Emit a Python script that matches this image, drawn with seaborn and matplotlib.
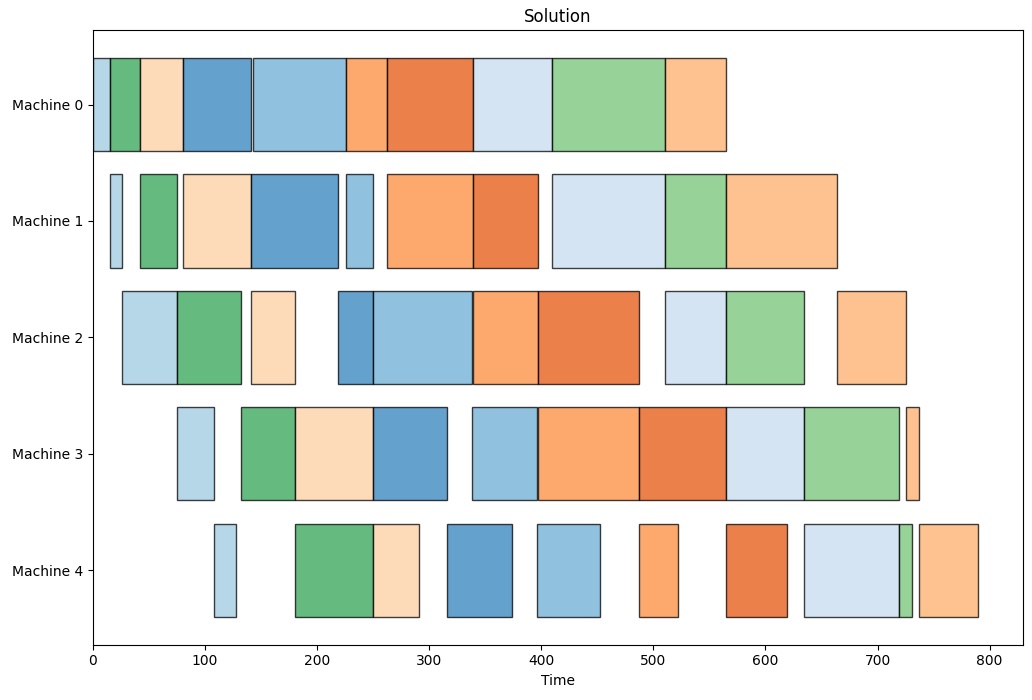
import numpy as np
import pandas as pd
import seaborn as sns
import matplotlib
matplotlib.use("Agg")
import matplotlib.pyplot as plt

machines = ["Machine 0", "Machine 1", "Machine 2", "Machine 3", "Machine 4"]

# job sequence (flow shop permutation) and per-job start / duration on machines 0..4
job_order = [2, 8, 7, 0, 1, 5, 4, 3, 9, 6]
job_starts = {
    2: [0, 15, 26, 75, 108],
    8: [15, 42, 75, 132, 180],
    7: [42, 80, 141, 180, 250],
    0: [80, 141, 219, 250, 316],
    1: [143, 226, 250, 338, 396],
    5: [226, 262, 339, 397, 487],
    4: [262, 339, 397, 487, 565],
    3: [339, 410, 510, 565, 634],
    9: [410, 510, 565, 634, 719],
    6: [510, 565, 664, 725, 737],
}
job_durations = {
    2: [15, 11, 49, 33, 20],
    8: [27, 33, 57, 48, 70],
    7: [38, 61, 39, 70, 41],
    0: [61, 78, 31, 66, 58],
    1: [83, 24, 88, 58, 56],
    5: [36, 77, 58, 90, 35],
    4: [77, 58, 90, 78, 54],
    3: [71, 100, 55, 69, 85],
    9: [100, 55, 69, 85, 12],
    6: [55, 99, 61, 12, 53],
}

# === build long table ===
records = []
for job in job_order:
    for m, (s, d) in enumerate(zip(job_starts[job], job_durations[job])):
        records.append({"Job": job, "Machine": m, "Start": s, "Duration": d})
df = pd.DataFrame(records)

palette = sns.color_palette("tab20c", 20)

fig, ax = plt.subplots(figsize=(10.32, 7), dpi=100)
for _, row in df.iterrows():
    ax.barh(row["Machine"], row["Duration"], left=row["Start"], height=0.8,
            color=palette[int(row["Job"])], edgecolor="black", alpha=0.75)

makespan = (df["Start"] + df["Duration"]).max()
ax.set_xlim(0, makespan * 1.05)
ax.set_yticks(range(len(machines)))
ax.set_yticklabels(machines)
ax.invert_yaxis()
ax.set_xlabel("Time")
ax.set_title("Solution")

plt.subplots_adjust(left=0.090, right=0.991, top=0.957, bottom=0.079)
plt.savefig("out.png")
